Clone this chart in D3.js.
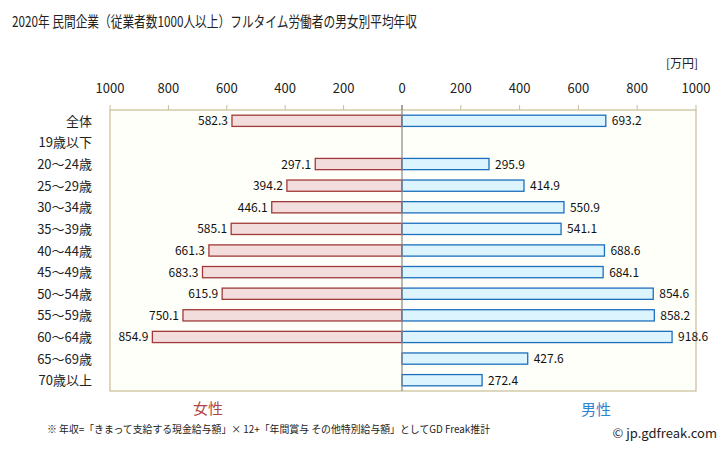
<!DOCTYPE html>
<html><head><meta charset="utf-8">
<script src="https://cdn.jsdelivr.net/npm/d3@7"></script>
<style>body{margin:0;background:#fff;}svg{display:block;font-family:"Noto Sans CJK JP","Noto Sans",sans-serif;}</style>
</head><body><svg id="c" width="728" height="451"></svg>
<script>
const categories = ["全体","19歳以下","20〜24歳","25〜29歳","30〜34歳","35〜39歳","40〜44歳","45〜49歳","50〜54歳","55〜59歳","60〜64歳","65〜69歳","70歳以上"];
const female = [582.3,null,297.1,394.2,446.1,585.1,661.3,683.3,615.9,750.1,854.9,null,null];
const male = [693.2,null,295.9,414.9,550.9,541.1,688.6,684.1,854.6,858.2,918.6,427.6,272.4];
const ticks = [0,200,400,600,800,1000];

const svg = d3.select("#c");
const L=110, R=696, T=110, B=391, Z=402;
const xl = d3.scaleLinear().domain([0,1000]).range([Z,L]);
const xr = d3.scaleLinear().domain([0,1000]).range([Z,R]);
const y = d3.scaleBand().domain(categories).range([T,B]).paddingInner(0.48).paddingOuter(0.24);

svg.append("text").attr("x",12).attr("y",27).attr("font-size",15).attr("fill","#222")
  .attr("textLength",405).attr("lengthAdjust","spacingAndGlyphs")
  .text("2020年 民間企業（従業者数1000人以上）フルタイム労働者の男女別平均年収");
svg.append("text").attr("x",698).attr("y",68).attr("text-anchor","end").attr("font-size",12).attr("fill","#222").text("[万円]");

svg.append("rect").attr("x",L).attr("y",T).attr("width",R-L).attr("height",B-T)
  .attr("fill","#fffffa").attr("stroke","#c8bd94").attr("stroke-width",1.2);

// tick marks + labels
const tg = svg.append("g");
ticks.forEach(t=>{
  [xl,xr].forEach((s,k)=>{
    tg.append("line").attr("x1",s(t)).attr("x2",s(t)).attr("y1",T-5).attr("y2",T).attr("stroke","#c8bd94");
    if(t===0 && k===1) return;
    tg.append("text").attr("x",s(t)).attr("y",93).attr("text-anchor","middle").attr("font-size",13).attr("fill","#222").text(t);
  });
});

categories.forEach((c,i)=>{
  svg.append("text").attr("x",92).attr("y",y(c)+y.bandwidth()/2+5).attr("text-anchor","end")
    .attr("font-size",13).attr("fill","#222").text(c);
});

const bh = y.bandwidth();
categories.forEach((c,i)=>{
  if(female[i]!=null){
    svg.append("rect").attr("x",xl(female[i])).attr("y",y(c)).attr("width",Z-xl(female[i])).attr("height",bh)
      .attr("fill","#f2dcdc").attr("stroke","#a03a3a").attr("stroke-width",1.3);
    svg.append("text").attr("x",xl(female[i])-4).attr("y",y(c)+bh/2+4.5).attr("text-anchor","end")
      .attr("font-size",12).attr("fill","#111").text(female[i].toFixed(1));
  }
  if(male[i]!=null){
    svg.append("rect").attr("x",Z).attr("y",y(c)).attr("width",xr(male[i])-Z).attr("height",bh)
      .attr("fill","#dcf4fd").attr("stroke","#1c6fbf").attr("stroke-width",1.3);
    svg.append("text").attr("x",xr(male[i])+6).attr("y",y(c)+bh/2+4.5).attr("text-anchor","start")
      .attr("font-size",12).attr("fill","#111").text(male[i].toFixed(1));
  }
});
svg.append("line").attr("x1",Z).attr("x2",Z).attr("y1",T-5).attr("y2",B).attr("stroke","#888").attr("stroke-width",1.2);

svg.append("text").attr("x",208).attr("y",414).attr("text-anchor","middle").attr("font-size",15).attr("fill","#b04848").text("女性");
svg.append("text").attr("x",596).attr("y",415).attr("text-anchor","middle").attr("font-size",15).attr("fill","#2f86d0").text("男性");
svg.append("text").attr("x",47).attr("y",433).attr("font-size",10).attr("fill","#222")
  .attr("textLength",443).attr("lengthAdjust","spacingAndGlyphs")
  .text("※ 年収=「きまって支給する現金給与額」× 12+「年間賞与 その他特別給与額」としてGD Freak推計");
svg.append("text").attr("x",717).attr("y",438).attr("text-anchor","end").attr("font-size",13).attr("fill","#222").text("© jp.gdfreak.com");
</script></body></html>
